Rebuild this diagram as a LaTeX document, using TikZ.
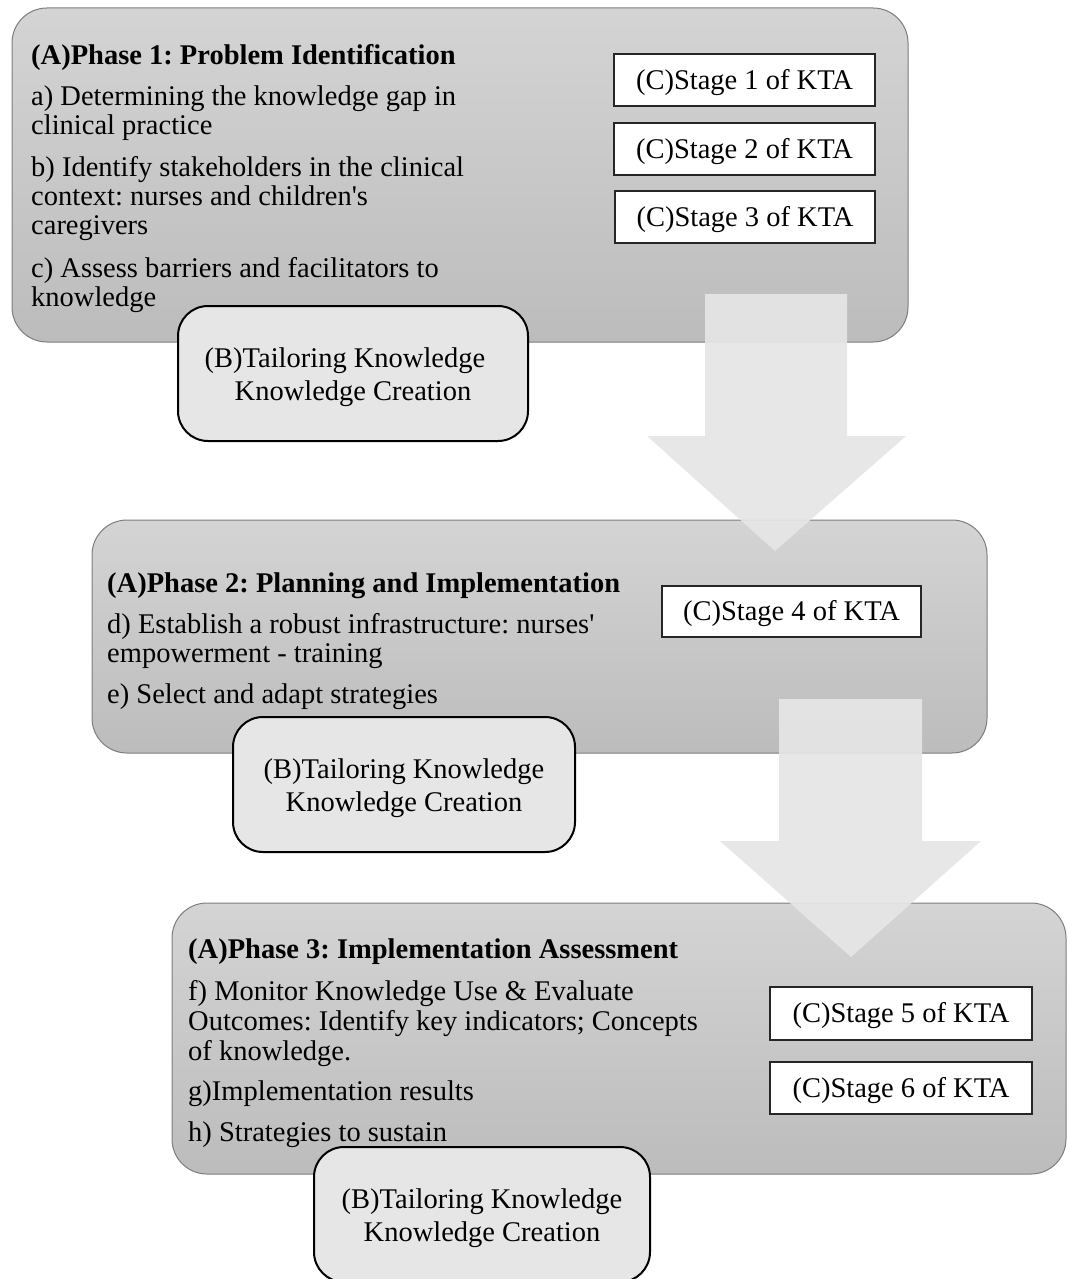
\documentclass[tikz,border=0pt]{standalone}
\usepackage{fontspec}
\setmainfont{Liberation Serif}
\frenchspacing
\definecolor{phtop}{RGB}{212,212,212}
\definecolor{phbot}{RGB}{188,188,188}
\definecolor{phline}{RGB}{125,125,125}
\definecolor{bfill}{RGB}{230,230,230}
\definecolor{arrfill}{RGB}{230,230,230}
\begin{document}
\begin{tikzpicture}[x=1pt,y=-1pt,
  phase/.style={draw=phline, line width=1pt, rounded corners=35pt, top color=phtop, bottom color=phbot, inner sep=0pt},
  stagebox/.style={draw=black!85, line width=1.4pt, fill=white, inner sep=0pt, text height=20pt, text depth=1.5pt, font=\fontsize{28.5}{29.5}\selectfont},
  tailor/.style={draw=black, line width=2pt, rounded corners=30pt, fill=bfill, inner sep=0pt},
  tailortext/.style={inner sep=0pt, align=center, font=\fontsize{28.5}{33}\selectfont},
  txt/.style={anchor=base west, inner sep=0pt, font=\fontsize{28.5}{29.5}\selectfont},
  hdr/.style={txt, font=\fontsize{28.5}{29.5}\selectfont\bfseries},
  bigarrow/.style={fill=arrfill, fill opacity=0.92, draw=none}
]
\useasboundingbox (0,0) rectangle (1068,1279);
\fill[white] (0,0) rectangle (1068,1279);

% phase panels
\node[phase, minimum width=896pt, minimum height=334pt] (ph1) at (460,175) {};
\node[phase, minimum width=895pt, minimum height=233pt] (ph2) at (539.5,636.5) {};
\node[phase, minimum width=894pt, minimum height=271pt] (ph3) at (619,1038.5) {};

% phase 1 text
\node[hdr] (h1) at (31,65) {(A)Phase 1: Problem Identification};
\node[txt] (l1a) at (31,106) {a) Determining the knowledge gap in};
\node[txt] (l1b) at (31,135) {clinical practice};
\node[txt] (l1c) at (31,176) {b) Identify stakeholders in the clinical};
\node[txt] (l1d) at (31,205) {context: nurses and children\textquotesingle s};
\node[txt] (l1e) at (31,234) {caregivers};
\node[txt] (l1f) at (31,277) {c) Assess barriers and facilitators to};
\node[txt] (l1g) at (31,306) {knowledge};

\node[stagebox, minimum width=261pt, minimum height=52pt] (s1) at (744.5,80) {(C)Stage 1 of KTA};
\node[stagebox, minimum width=261pt, minimum height=52pt] (s2) at (744.5,149) {(C)Stage 2 of KTA};
\node[stagebox, minimum width=260pt, minimum height=52pt] (s3) at (745,217) {(C)Stage 3 of KTA};

% phase 2 text
\node[hdr] (h2) at (107,592) {(A)Phase 2: Planning and Implementation};
\node[txt] (l2a) at (107,633) {d) Establish a robust infrastructure: nurses\textquotesingle};
\node[txt] (l2b) at (107,662) {empowerment - training};
\node[txt] (l2c) at (107,703) {e) Select and adapt strategies};

\node[stagebox, minimum width=259pt, minimum height=51pt] (s4) at (791.5,611.5) {(C)Stage 4 of KTA};

% phase 3 text
\node[hdr] (h3) at (188,958) {(A)Phase 3: Implementation Assessment};
\node[txt] (l3a) at (188,1000) {f) Monitor Knowledge Use \& Evaluate};
\node[txt] (l3b) at (188,1030) {Outcomes: Identify key indicators; Concepts};
\node[txt] (l3c) at (188,1060) {of knowledge.};
\node[txt] (l3d) at (188,1100) {g)Implementation results};
\node[txt] (l3e) at (188,1141) {h) Strategies to sustain};

\node[stagebox, minimum width=262pt, minimum height=53pt] (s5) at (901,1013.5) {(C)Stage 5 of KTA};
\node[stagebox, minimum width=262pt, minimum height=52pt] (s6) at (901,1088) {(C)Stage 6 of KTA};

% block arrows between phases
\coordinate (a1top) at (776,294);
\coordinate (a1tip) at (775,551);
\fill[bigarrow] (a1top) ++(-71,0) -- ++(142,0) -- ++(0,142) -- ++(59,0) -- (a1tip) -- (647,436) -- (705,436) -- cycle;
\coordinate (a2top) at (850.5,699);
\coordinate (a2tip) at (851,957);
\fill[bigarrow] (a2top) ++(-71.5,0) -- ++(143,0) -- ++(0,142) -- ++(59,0) -- (a2tip) -- (720,841) -- (779,841) -- cycle;

% tailoring boxes
\node[tailor, minimum width=350pt, minimum height=135pt] (b1) at (353,373.5) {};
\node[tailortext] (b1t) at (353,377.5) {(B)Tailoring Knowledge\hspace*{16pt}\\Knowledge Creation};
\node[tailor, minimum width=342pt, minimum height=135pt] (b2) at (404,784.5) {};
\node[tailortext] (b2t) at (404,788.5) {(B)Tailoring Knowledge\\Knowledge Creation};
\node[tailor, minimum width=336pt, minimum height=135pt] (b3) at (482,1214.5) {};
\node[tailortext] (b3t) at (482,1218.5) {(B)Tailoring Knowledge\\Knowledge Creation};
\end{tikzpicture}
\end{document}
